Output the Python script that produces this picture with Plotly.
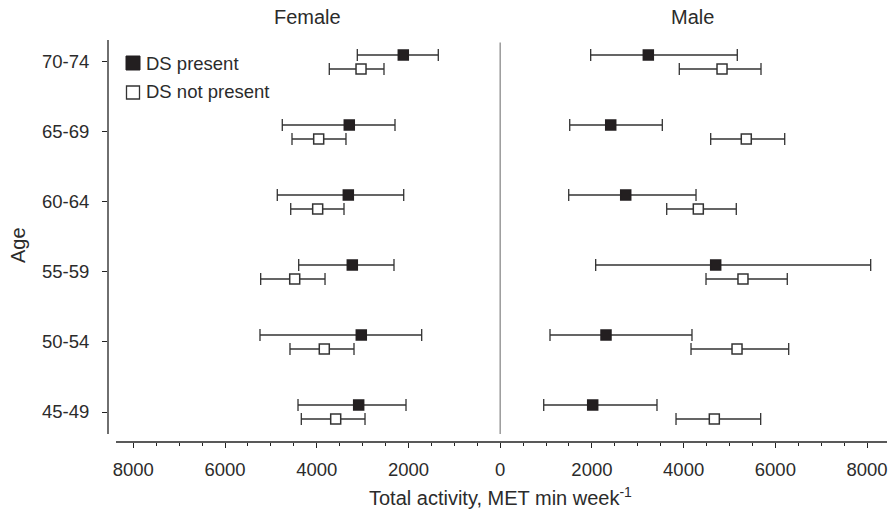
import plotly.graph_objects as go

# Age groups (bottom to top) and total activity (MET min/week): mean with CI bounds
ages = ["45-49", "50-54", "55-59", "60-64", "65-69", "70-74"]

female_ds_mean = [3086, 3029, 3225, 3312, 3291, 2113]
female_ds_lo = [2054, 1712, 2316, 2104, 2294, 1350]
female_ds_hi = [4409, 5238, 4394, 4861, 4752, 3116]

female_nods_mean = [3587, 3836, 4481, 3980, 3958, 3035]
female_nods_lo = [2948, 3188, 3820, 3406, 3363, 2534]
female_nods_hi = [4337, 4584, 5223, 4568, 4540, 3727]

male_ds_mean = [2017, 2307, 4699, 2737, 2410, 3230]
male_ds_lo = [949, 1086, 2082, 1494, 1516, 1973]
male_ds_hi = [3419, 4182, 8079, 4270, 3535, 5170]

male_nods_mean = [4669, 5164, 5294, 4320, 5366, 4837]
male_nods_lo = [3834, 4161, 4488, 3631, 4590, 3905]
male_nods_hi = [5680, 6291, 6260, 5148, 6204, 5687]

x_tick_vals = [-8000, -6000, -4000, -2000, 0, 2000, 4000, 6000, 8000]
x_tick_text = ["8000", "6000", "4000", "2000", "0", "2000", "4000", "6000", "8000"]

FONT = "Arial, Liberation Sans, sans-serif"
INK = "#231f20"
TEXT = "#2b2b2b"

W, H = 888, 521
L, R, T, B = 108, 1, 40, 79
PW, PH = W - L - R, H - T - B


def pxx(x):
    return (x - L) / PW


def pxy(y):
    return (H - B - y) / PH


ypos = list(range(len(ages)))
off = 0.1

fig = go.Figure()


def add_series(means, lo, hi, sign, dy, filled):
    xs = [sign * m for m in means]
    if sign < 0:
        plus = [m - a for m, a in zip(means, lo)]
        minus = [b - m for m, b in zip(means, hi)]
    else:
        plus = [b - m for m, b in zip(means, hi)]
        minus = [m - a for m, a in zip(means, lo)]
    fig.add_trace(go.Scatter(
        x=xs, y=[p + dy for p in ypos], mode="markers", showlegend=False,
        marker=dict(symbol="square", size=10,
                    color=INK if filled else "white",
                    line=dict(color=INK if filled else "#333333", width=1.5)),
        error_x=dict(type="data", symmetric=False, array=plus, arrayminus=minus,
                     color="#333333", thickness=1.3, width=6),
    ))


add_series(female_ds_mean, female_ds_lo, female_ds_hi, -1, off, True)
add_series(female_nods_mean, female_nods_lo, female_nods_hi, -1, -off, False)
add_series(male_ds_mean, male_ds_lo, male_ds_hi, 1, off, True)
add_series(male_nods_mean, male_nods_lo, male_nods_hi, 1, -off, False)

minor_vals = [v for v in range(-8000, 8001, 500) if v % 2000 != 0]

shapes = [
    # left y-axis line
    dict(type="line", xref="paper", yref="y", x0=0, x1=0, y0=-0.314, y1=5.314,
         line=dict(color="#222222", width=1.3)),
    # x-axis line
    dict(type="line", xref="paper", yref="paper", x0=pxx(116), x1=pxx(887), y0=0, y1=0,
         line=dict(color="#222222", width=1.3)),
    # zero divider
    dict(type="line", xref="x", yref="y", x0=0, x1=0, y0=-0.314, y1=5.28,
         line=dict(color="#9a9a9a", width=1.5)),
    # legend keys
    dict(type="rect", xref="paper", yref="paper", x0=pxx(126), x1=pxx(140),
         y0=pxy(70), y1=pxy(56), fillcolor=INK, line=dict(color=INK, width=1)),
    dict(type="rect", xref="paper", yref="paper", x0=pxx(126.5), x1=pxx(139.5),
         y0=pxy(99), y1=pxy(86), fillcolor="white", line=dict(color="#333333", width=1.3)),
]

annotations = [
    dict(text="DS present", xref="paper", yref="paper", x=pxx(144), y=pxy(63),
         xanchor="left", yanchor="middle", showarrow=False, font=dict(size=18.5, color=TEXT)),
    dict(text="DS not present", xref="paper", yref="paper", x=pxx(144), y=pxy(92),
         xanchor="left", yanchor="middle", showarrow=False, font=dict(size=18.5, color=TEXT)),
    dict(text="Female", xref="x", yref="paper", x=-4200, y=pxy(17),
         xanchor="center", yanchor="middle", showarrow=False, font=dict(size=20, color=TEXT)),
    dict(text="Male", xref="x", yref="paper", x=4200, y=pxy(17),
         xanchor="center", yanchor="middle", showarrow=False, font=dict(size=20, color=TEXT)),
    dict(text="Age", xref="paper", yref="paper", x=pxx(18), y=pxy(245), textangle=-90,
         xanchor="center", yanchor="middle", showarrow=False, font=dict(size=20, color=TEXT)),
    dict(text="Total activity, MET min week<sup>-1</sup>", xref="x", yref="paper", x=0, y=pxy(496),
         xanchor="center", yanchor="middle", showarrow=False, font=dict(size=20, color=TEXT)),
]

x_left = (L - 500.2) * 21.806
x_right = (W - R - 500.2) * 21.806

fig.update_layout(
    width=W, height=H,
    margin=dict(l=L, r=R, t=T, b=B),
    paper_bgcolor="white", plot_bgcolor="white",
    font=dict(family=FONT, size=18, color=TEXT),
    showlegend=False,
    shapes=shapes,
    annotations=annotations,
    xaxis=dict(
        range=[x_left, x_right], showgrid=False, zeroline=False, showline=False,
        tickmode="array", tickvals=x_tick_vals, ticktext=x_tick_text,
        ticks="outside", ticklen=5, tickwidth=1.3, tickcolor="#222222",
        ticklabelstandoff=6,
        minor=dict(tickmode="array", tickvals=minor_vals, ticks="outside",
                   ticklen=3, tickwidth=1.2, tickcolor="#222222", showgrid=False),
        tickfont=dict(size=18.5, color=TEXT),
    ),
    yaxis=dict(
        range=[-0.4286, 5.314], showgrid=False, zeroline=False, showline=False,
        tickmode="array", tickvals=ypos, ticktext=ages,
        ticks="outside", ticklen=5, tickwidth=1.3, tickcolor="#222222",
        ticklabelstandoff=9,
        tickfont=dict(size=18.5, color=TEXT),
    ),
)

fig.write_html("out.html")
